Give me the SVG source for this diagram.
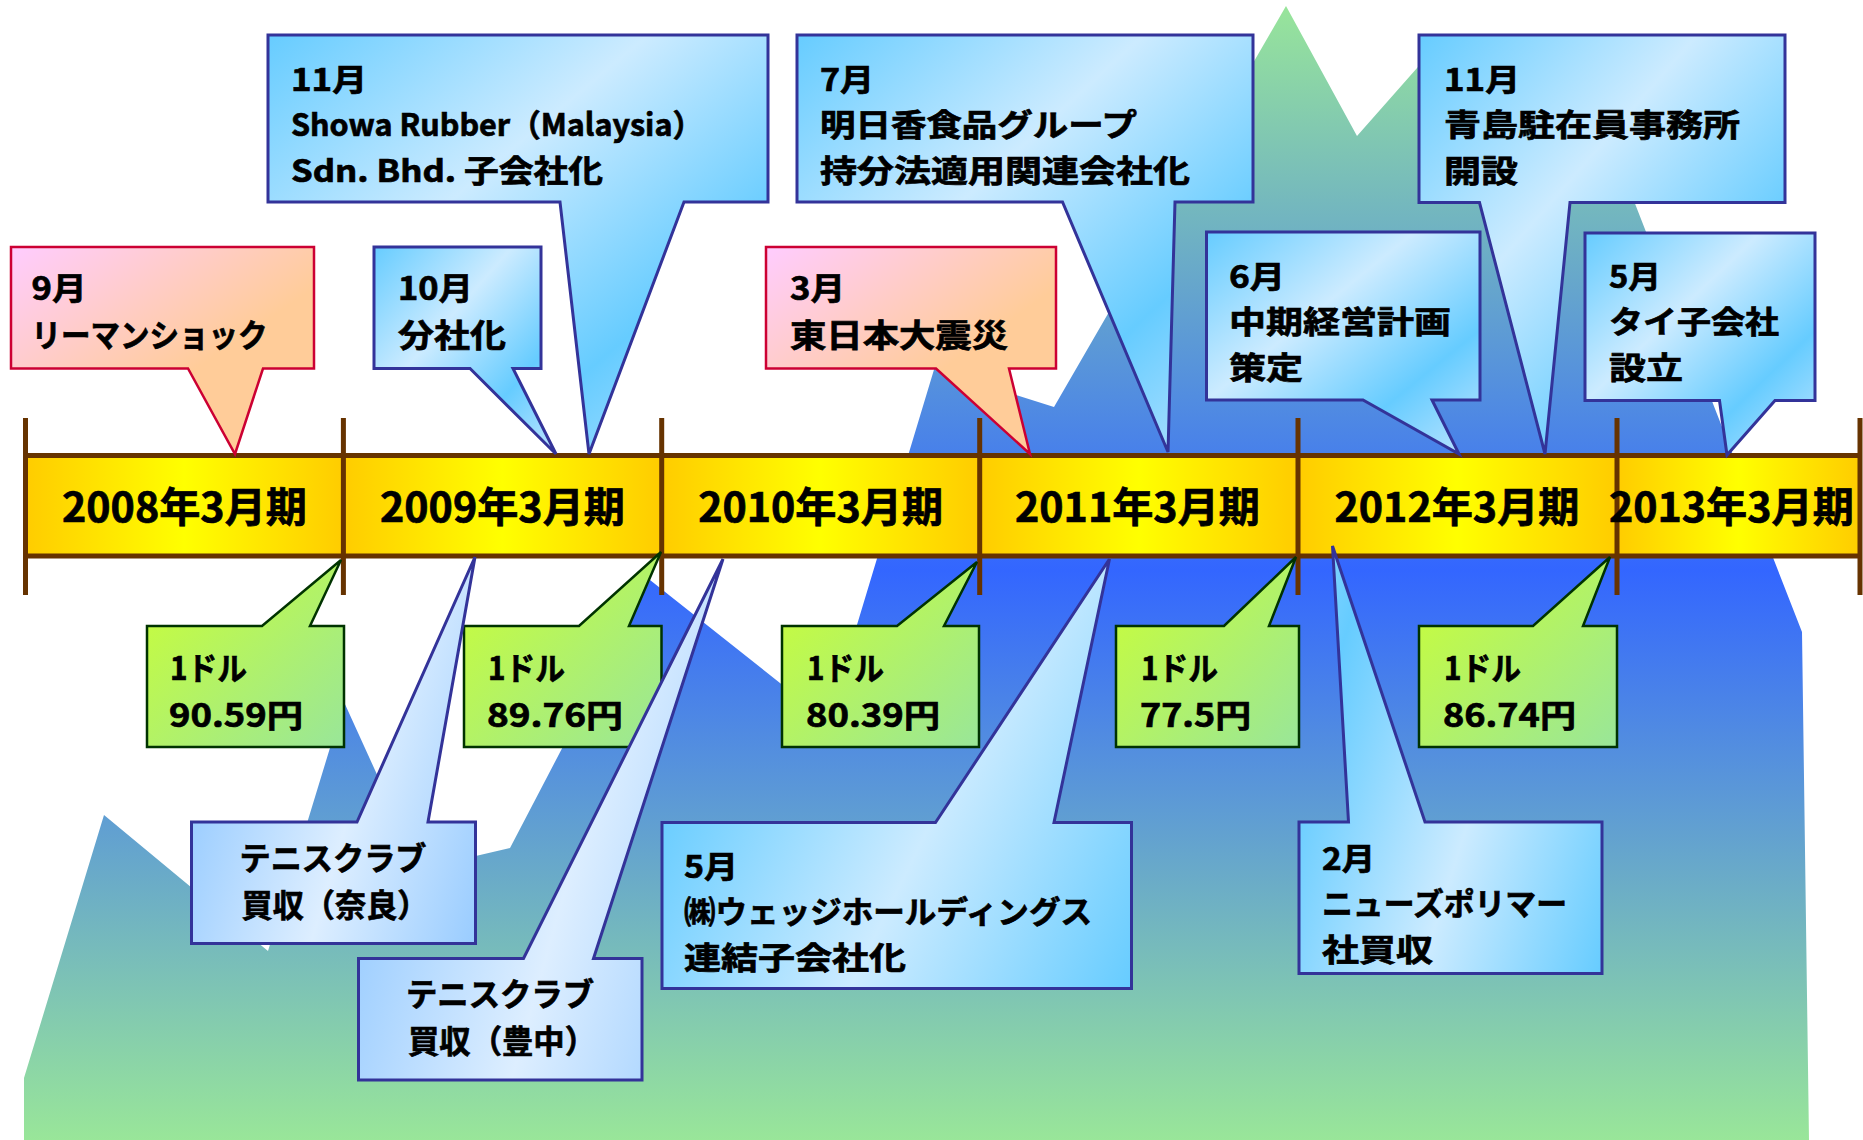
<svg xmlns="http://www.w3.org/2000/svg" width="1863" height="1140" viewBox="0 0 1863 1140">
<defs>
  <linearGradient id="gMtn" gradientUnits="userSpaceOnUse" x1="0" y1="0" x2="0" y2="1140">
    <stop offset="0" stop-color="#99E699"/>
    <stop offset="0.5" stop-color="#3366FF"/>
    <stop offset="1" stop-color="#99E699"/>
  </linearGradient>
  <linearGradient id="gBar" x1="0" y1="0" x2="1" y2="0">
    <stop offset="0" stop-color="#FFCC00"/>
    <stop offset="0.5" stop-color="#FFFF00"/>
    <stop offset="1" stop-color="#FFCC00"/>
  </linearGradient>
  <linearGradient id="gBlueTop" x1="0" y1="0" x2="1" y2="1">
    <stop offset="0" stop-color="#66CCFF"/>
    <stop offset="0.38" stop-color="#CCEBFF"/>
    <stop offset="0.72" stop-color="#66CCFF"/>
    <stop offset="1" stop-color="#BFE5FF"/>
  </linearGradient>
  <linearGradient id="gBlueBot" x1="0" y1="0.55" x2="1" y2="1" spreadMethod="reflect">
    <stop offset="0" stop-color="#66CCFF"/>
    <stop offset="0.5" stop-color="#CCEBFF"/>
    <stop offset="1" stop-color="#66CCFF"/>
  </linearGradient>
  <linearGradient id="gLight" x1="0" y1="0.6" x2="1" y2="1" spreadMethod="reflect">
    <stop offset="0" stop-color="#99CCFF"/>
    <stop offset="0.5" stop-color="#DDEEFF"/>
    <stop offset="1" stop-color="#99CCFF"/>
  </linearGradient>
  <linearGradient id="gPink" x1="0" y1="0" x2="1" y2="1">
    <stop offset="0" stop-color="#FFCCFF"/>
    <stop offset="0.6" stop-color="#FFCC99"/>
    <stop offset="1" stop-color="#FFCC99"/>
  </linearGradient>
  <linearGradient id="gGreen" x1="0" y1="0" x2="1" y2="1">
    <stop offset="0" stop-color="#CCFF33"/>
    <stop offset="1" stop-color="#99E699"/>
  </linearGradient>
</defs>
<style>
  .t{font-family:"Noto Sans CJK JP","Noto Sans CJK SC",sans-serif;font-weight:700;fill:#000;stroke:#000;stroke-width:0.7px}
  .yr{font-size:41px;text-anchor:middle}
  .c3{font-size:31px}
  .c2{font-size:32px}
  .mid{text-anchor:middle}
  .cbt{fill:url(#gBlueTop);stroke:#333399;stroke-width:3}
  .cbb{fill:url(#gBlueBot);stroke:#333399;stroke-width:3}
  .clt{fill:url(#gLight);stroke:#333399;stroke-width:3}
  .cpk{fill:url(#gPink);stroke:#CC0033;stroke-width:2.5}
  .cgr{fill:url(#gGreen);stroke:#003300;stroke-width:2.5}
  .seg{fill:url(#gBar)}
  .bl{stroke:#663300;stroke-width:5;fill:none}
  .tk{stroke:#663300;stroke-width:5}
</style>

<g id="background">
  <path d="M24,1140 L24,1078 L104,815 L268,951 L344,702 L420,869 L510,848 L650,580 L828,721 L955,300 L1000,390 L1054,407 L1286,6 L1357,136 L1440,42 L1572,42 L1802,632 L1809,1140 Z" fill="url(#gMtn)"/>
</g>

<g id="timeline">
  <rect class="seg" x="25.5" y="455.5" width="317.9" height="100.5"/>
  <rect class="seg" x="343.4" y="455.5" width="318.3" height="100.5"/>
  <rect class="seg" x="661.7" y="455.5" width="318" height="100.5"/>
  <rect class="seg" x="979.7" y="455.5" width="318.3" height="100.5"/>
  <rect class="seg" x="1298" y="455.5" width="319" height="100.5"/>
  <rect class="seg" x="1617" y="455.5" width="243" height="100.5"/>
  <line class="bl" x1="25.5" y1="455.5" x2="1860" y2="455.5"/>
  <line class="bl" x1="25.5" y1="556" x2="1860" y2="556"/>
  <line class="tk" x1="25.5" y1="418" x2="25.5" y2="595"/>
  <line class="tk" x1="343.4" y1="418" x2="343.4" y2="595"/>
  <line class="tk" x1="661.7" y1="418" x2="661.7" y2="595"/>
  <line class="tk" x1="979.7" y1="418" x2="979.7" y2="595"/>
  <line class="tk" x1="1298" y1="418" x2="1298" y2="595"/>
  <line class="tk" x1="1617" y1="418" x2="1617" y2="595"/>
  <line class="tk" x1="1860" y1="418" x2="1860" y2="595"/>
  <text class="t yr" x="184.5" y="522" textLength="245" lengthAdjust="spacingAndGlyphs">2008年3月期</text>
  <text class="t yr" x="502.5" y="522" textLength="245" lengthAdjust="spacingAndGlyphs">2009年3月期</text>
  <text class="t yr" x="820.7" y="522" textLength="245" lengthAdjust="spacingAndGlyphs">2010年3月期</text>
  <text class="t yr" x="1137.5" y="522" textLength="245" lengthAdjust="spacingAndGlyphs">2011年3月期</text>
  <text class="t yr" x="1457" y="522" textLength="245" lengthAdjust="spacingAndGlyphs">2012年3月期</text>
  <text class="t yr" x="1731.4" y="522" textLength="245" lengthAdjust="spacingAndGlyphs">2013年3月期</text>
</g>

<g id="rate-2008">
  <path class="cgr" d="M147,626 H262 L341,560 L310,626 H344 V747 H147 Z"/>
  <text class="t c2" x="170" y="680" textLength="77" lengthAdjust="spacingAndGlyphs">1ドル</text>
  <text class="t c2" x="169" y="727" textLength="134" lengthAdjust="spacingAndGlyphs">90.59円</text>
</g>
<g id="rate-2009">
  <path class="cgr" d="M464,626 H579 L661,552 L629,626 H661.5 V747 H464 Z"/>
  <text class="t c2" x="488" y="680" textLength="77" lengthAdjust="spacingAndGlyphs">1ドル</text>
  <text class="t c2" x="487" y="727" textLength="136" lengthAdjust="spacingAndGlyphs">89.76円</text>
</g>
<g id="rate-2010">
  <path class="cgr" d="M782,626 H897 L977,562 L944,626 H979 V747 H782 Z"/>
  <text class="t c2" x="807" y="680" textLength="77" lengthAdjust="spacingAndGlyphs">1ドル</text>
  <text class="t c2" x="806" y="727" textLength="134" lengthAdjust="spacingAndGlyphs">80.39円</text>
</g>
<g id="rate-2011">
  <path class="cgr" d="M1116,626 H1224 L1296,557 L1269,626 H1299 V747 H1116 Z"/>
  <text class="t c2" x="1141" y="680" textLength="77" lengthAdjust="spacingAndGlyphs">1ドル</text>
  <text class="t c2" x="1140" y="727" textLength="111" lengthAdjust="spacingAndGlyphs">77.5円</text>
</g>
<g id="rate-2012">
  <path class="cgr" d="M1419,626 H1533 L1610,557 L1583,626 H1617 V747 H1419 Z"/>
  <text class="t c2" x="1444" y="680" textLength="77" lengthAdjust="spacingAndGlyphs">1ドル</text>
  <text class="t c2" x="1443" y="727" textLength="133" lengthAdjust="spacingAndGlyphs">86.74円</text>
</g>

<g id="lehman">
  <path class="cpk" d="M11,247 H314 V368.5 H263 L235,454 L188,368.5 H11 Z"/>
  <text class="t c2" x="31.6" y="300" textLength="55" lengthAdjust="spacingAndGlyphs">9月</text>
  <text class="t c2" x="31.6" y="347" textLength="236" lengthAdjust="spacingAndGlyphs">リーマンショック</text>
</g>
<g id="quake">
  <path class="cpk" d="M766,247 H1056 V368.5 H1009 L1030,454 L936,368.5 H766 Z"/>
  <text class="t c2" x="790" y="300" textLength="55" lengthAdjust="spacingAndGlyphs">3月</text>
  <text class="t c2" x="790" y="347" textLength="218" lengthAdjust="spacingAndGlyphs">東日本大震災</text>
</g>

<g id="showa-malaysia">
  <path class="cbt" d="M268,35 H768 V202 H684 L589,454 L560,202 H268 Z"/>
  <text class="t c3" x="291" y="90.5" textLength="76" lengthAdjust="spacingAndGlyphs">11月</text>
  <text class="t c3" x="291" y="136" textLength="412" lengthAdjust="spacingAndGlyphs">Showa Rubber（Malaysia）</text>
  <text class="t c3" x="291" y="181.5" textLength="312" lengthAdjust="spacingAndGlyphs">Sdn. Bhd. 子会社化</text>
</g>
<g id="spinoff">
  <path class="cbt" d="M374,247 H541 V368.5 H513 L556,454 L470,368.5 H374 Z"/>
  <text class="t c2" x="398" y="300" textLength="75" lengthAdjust="spacingAndGlyphs">10月</text>
  <text class="t c2" x="398" y="347" textLength="108" lengthAdjust="spacingAndGlyphs">分社化</text>
</g>
<g id="asuka">
  <path class="cbt" d="M797,35 H1253 V202 H1175 L1168,452 L1062.5,202 H797 Z"/>
  <text class="t c3" x="820" y="90.5" textLength="54" lengthAdjust="spacingAndGlyphs">7月</text>
  <text class="t c3" x="820" y="136" textLength="317" lengthAdjust="spacingAndGlyphs">明日香食品グループ</text>
  <text class="t c3" x="820" y="181.5" textLength="370" lengthAdjust="spacingAndGlyphs">持分法適用関連会社化</text>
</g>
<g id="qingdao">
  <path class="cbt" d="M1419,35 H1785 V202.5 H1570 L1545,454 L1479.5,202.5 H1419 Z"/>
  <text class="t c3" x="1444" y="90.5" textLength="76" lengthAdjust="spacingAndGlyphs">11月</text>
  <text class="t c3" x="1444" y="136" textLength="296" lengthAdjust="spacingAndGlyphs">青島駐在員事務所</text>
  <text class="t c3" x="1444" y="181.5" textLength="74" lengthAdjust="spacingAndGlyphs">開設</text>
</g>
<g id="midterm-plan">
  <path class="cbt" d="M1206.5,232 H1480 V400 H1432 L1459,454 L1363,400 H1206.5 Z"/>
  <text class="t c3" x="1229" y="287.5" textLength="56" lengthAdjust="spacingAndGlyphs">6月</text>
  <text class="t c3" x="1229" y="333" textLength="222" lengthAdjust="spacingAndGlyphs">中期経営計画</text>
  <text class="t c3" x="1229" y="378.5" textLength="74" lengthAdjust="spacingAndGlyphs">策定</text>
</g>
<g id="thai">
  <path class="cbt" d="M1585,233 H1815 V400.5 H1775 L1727,455 L1719.5,400.5 H1585 Z"/>
  <text class="t c3" x="1609" y="287.5" textLength="52" lengthAdjust="spacingAndGlyphs">5月</text>
  <text class="t c3" x="1609" y="333" textLength="170" lengthAdjust="spacingAndGlyphs">タイ子会社</text>
  <text class="t c3" x="1609" y="378.5" textLength="74" lengthAdjust="spacingAndGlyphs">設立</text>
</g>

<g id="tennis-nara">
  <path class="clt" d="M191.5,822 H357 L475,557 L428,822 H475.5 V943.5 H191.5 Z"/>
  <text class="t c2 mid" x="333" y="870" textLength="187" lengthAdjust="spacingAndGlyphs">テニスクラブ</text>
  <text class="t c2 mid" x="335" y="917" textLength="187" lengthAdjust="spacingAndGlyphs">買収（奈良）</text>
</g>
<g id="tennis-toyonaka">
  <path class="clt" d="M358.5,958.5 H523.5 L723,559 L593.5,958.5 H642 V1080 H358.5 Z"/>
  <text class="t c2 mid" x="500" y="1006" textLength="188" lengthAdjust="spacingAndGlyphs">テニスクラブ</text>
  <text class="t c2 mid" x="502" y="1053" textLength="188" lengthAdjust="spacingAndGlyphs">買収（豊中）</text>
</g>
<g id="wedge">
  <path class="cbb" d="M662,822.5 H935.5 L1109.5,559 L1054,822.5 H1131.5 V988.5 H662 Z"/>
  <text class="t c3" x="684" y="877.5" textLength="54" lengthAdjust="spacingAndGlyphs">5月</text>
  <text class="t c3" x="684" y="923" textLength="408" lengthAdjust="spacingAndGlyphs">㈱ウェッジホールディングス</text>
  <text class="t c3" x="684" y="968.5" textLength="222" lengthAdjust="spacingAndGlyphs">連結子会社化</text>
</g>
<g id="news-polymer">
  <path class="cbb" d="M1299,822 H1348.5 L1332.5,546 L1425,822 H1602 V973.5 H1299 Z"/>
  <text class="t c3" x="1322" y="869.5" textLength="53" lengthAdjust="spacingAndGlyphs">2月</text>
  <text class="t c3" x="1322" y="915" textLength="245" lengthAdjust="spacingAndGlyphs">ニューズポリマー</text>
  <text class="t c3" x="1322" y="960.5" textLength="111" lengthAdjust="spacingAndGlyphs">社買収</text>
</g>
</svg>
